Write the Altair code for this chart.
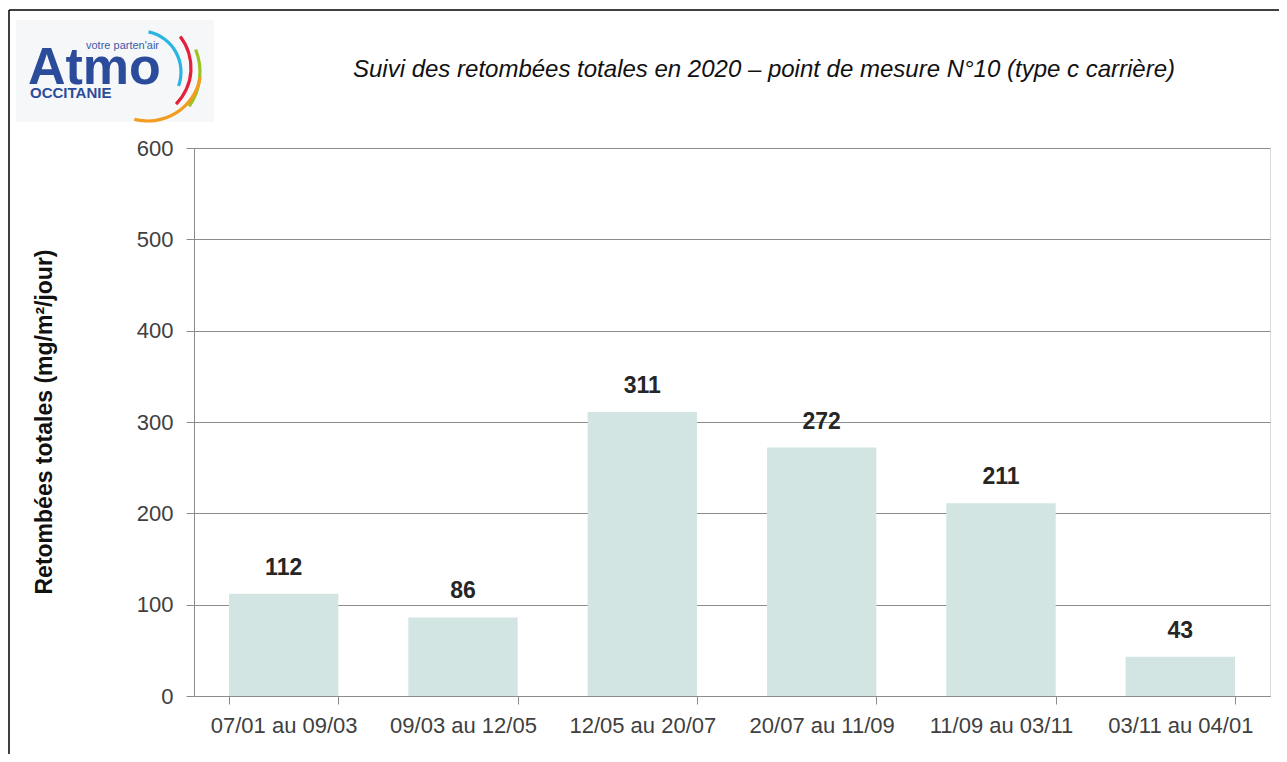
import altair as alt
import pandas as pd
import math

periods = ["07/01 au 09/03", "09/03 au 12/05", "12/05 au 20/07",
           "20/07 au 11/09", "11/09 au 03/11", "03/11 au 04/01"]
values = [112, 86, 311, 272, 211, 43]
y_ticks = [0, 100, 200, 300, 400, 500, 600]

title_text = "Suivi des retombées totales en 2020 – point de mesure N°10 (type c carrière)"
y_title = "Retombées totales (mg/m²/jour)"

FONT = "Liberation Sans Narrow, Arial Narrow, Liberation Sans, Arial"
W, H = 1076, 548

df = pd.DataFrame({"period": periods, "value": values})

xenc = alt.X("period:N", sort=periods,
             scale=alt.Scale(paddingInner=0.39, paddingOuter=0.195),
             axis=alt.Axis(title=None, tickBand="extent", labelAngle=0,
                           labelFont=FONT, labelFontSize=22, labelColor="#404040",
                           labelPadding=11, tickSize=8, tickColor="#8c8c8c",
                           domainColor="#8c8c8c", grid=False, labelLimit=300))
yenc = alt.Y("value:Q", scale=alt.Scale(domain=[0, 600], nice=False),
             axis=alt.Axis(title=None, values=y_ticks, labelFont=FONT,
                           labelFontSize=22, labelColor="#404040",
                           labelPadding=13, tickSize=8, tickColor="#8c8c8c",
                           domainColor="#8c8c8c", gridColor="#8c8c8c",
                           gridWidth=1, gridOpacity=1))

base = alt.Chart(df)
bars = base.mark_bar(color="#d2e5e3").encode(x=xenc, y=yenc)
labels = base.mark_text(font=FONT, fontSize=23, fontWeight="bold",
                        color="#262626", baseline="middle", dy=-26).encode(
    x=alt.X("period:N", sort=periods), y="value:Q", text="value:Q")

deco = pd.DataFrame({"t": [title_text], "y": [y_title]})
title = alt.Chart(deco).mark_text(font=FONT, fontSize=24, fontStyle="italic",
                                  color="#111111", align="center",
                                  baseline="middle").encode(
    x=alt.value(570), y=alt.value(-78), text="t:N")
ytitle = alt.Chart(deco).mark_text(font=FONT, fontSize=23, fontWeight="bold",
                                   color="#111111", angle=270, align="center",
                                   baseline="middle").encode(
    x=alt.value(-149), y=alt.value(274), text="y:N")

# frame lines
frame_top = alt.Chart(deco).mark_rule(color="#000000", strokeWidth=1.5).encode(
    x=alt.value(-185), x2=alt.value(W + 30), y=alt.value(-138))
frame_left = alt.Chart(deco).mark_rule(color="#000000", strokeWidth=1.5).encode(
    x=alt.value(-185), y=alt.value(-138), y2=alt.value(H + 80))

# logo
logo_bg = alt.Chart(deco).mark_rect(color="#f6f7f9").encode(
    x=alt.value(16 - 194), x2=alt.value(214 - 194),
    y=alt.value(20 - 148), y2=alt.value(122 - 148))
logo_atmo = alt.Chart(deco).mark_text(text="Atmo", font="Liberation Sans",
                                      fontWeight="bold", fontSize=52,
                                      color="#2b4c9b", align="left",
                                      baseline="alphabetic").encode(
    x=alt.value(28 - 194), y=alt.value(84 - 148))
logo_occ = alt.Chart(deco).mark_text(text="OCCITANIE", font="Liberation Sans",
                                     fontWeight="bold", fontSize=15,
                                     color="#2b4c9b", align="left",
                                     baseline="alphabetic").encode(
    x=alt.value(30 - 194), y=alt.value(98 - 148))
logo_tag = alt.Chart(deco).mark_text(text="votre parten'air", font="Liberation Sans",
                                     fontSize=11, color="#3a5aa8", align="left",
                                     baseline="alphabetic").encode(
    x=alt.value(86 - 194), y=alt.value(49 - 148))

arcs_spec = [
    ("#29b5e3", 140, 72, 41, 12, 110),
    ("#e4203a", 140, 68, 51, 52, 135),
    ("#9cc322", 140, 72, 60, 68, 125),
    ("#f39c1f", 148, 68, 53, 100, 195),
]
arc_layers = []
for col, cx, cy, r, t1, t2 in arcs_spec:
    arc_layers.append(alt.Chart(deco).mark_arc(color=col).encode(
        x=alt.value(cx - 194), y=alt.value(cy - 148),
        radius=alt.value(r - 1.6), radius2=alt.value(r + 1.6),
        theta=alt.value(math.radians(t1)), theta2=alt.value(math.radians(t2))))

chart = alt.layer(frame_top, frame_left, logo_bg, *arc_layers, logo_atmo,
                  logo_occ, logo_tag, title, ytitle, bars, labels).properties(
    width=W, height=H,
    autosize=alt.AutoSizeParams(type="none"),
    padding={"left": 186, "top": 140, "right": 9, "bottom": 58},
).configure_view(stroke=None).configure(background="white")

chart.save("out.html", embed_options={"renderer": "svg", "actions": False})
